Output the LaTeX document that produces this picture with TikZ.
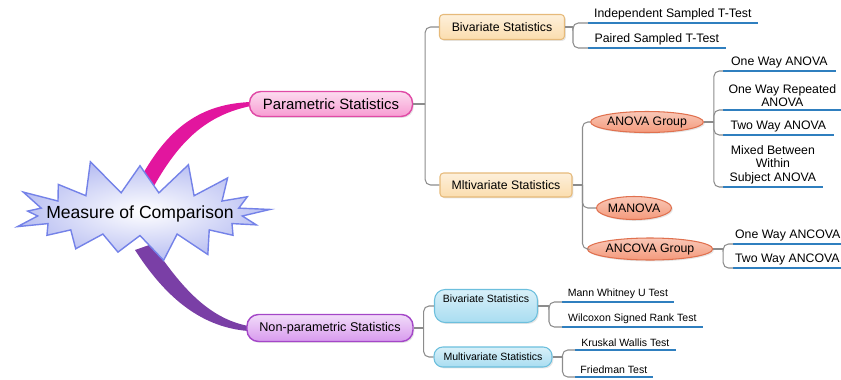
\documentclass[tikz,border=0pt]{standalone}
\usepackage{fontspec}
\setmainfont{Liberation Sans}
\usetikzlibrary{shapes.geometric, shapes.symbols, shadows, calc}
\pgfdeclarelayer{bg}
\pgfsetlayers{bg,main}

\definecolor{paraFill}{HTML}{F79BD2}
\definecolor{paraDraw}{HTML}{E04AA6}
\definecolor{ribPara}{HTML}{E2169E}
\definecolor{nonpFill}{HTML}{D89AEE}
\definecolor{nonpDraw}{HTML}{A447C8}
\definecolor{ribNonp}{HTML}{7A3FA6}
\definecolor{orangeFill}{HTML}{FBDDAE}
\definecolor{orangeDraw}{HTML}{E6BA7A}
\definecolor{salmonFill}{HTML}{F49A7C}
\definecolor{salmonDraw}{HTML}{E0714F}
\definecolor{blueFill}{HTML}{A9DDF1}
\definecolor{blueDraw}{HTML}{6CBFDD}
\definecolor{lineBlue}{HTML}{2F7FBF}
\definecolor{connGray}{HTML}{8C8C8C}
\definecolor{starFill}{HTML}{B9BFF2}
\definecolor{starDraw}{HTML}{7482E8}

\tikzstyle{conn} = [draw=connGray, line width=0.6pt, rounded corners=3pt]
\tikzstyle{uline} = [draw=lineBlue, line width=1.2pt]
\tikzstyle{leaf} = [anchor=south west, align=center, inner xsep=1pt, inner ysep=1.5pt,
  font=\fontsize{7}{7.8}\selectfont,
  append after command={(\tikzlastnode.south west) edge[uline] (\tikzlastnode.south east)}]
\tikzstyle{smallleaf} = [leaf, font=\fontsize{6}{7}\selectfont]
\tikzstyle{soft} = [drop shadow={shadow xshift=0.8pt, shadow yshift=-0.8pt, opacity=0.2}]
\tikzstyle{pill} = [soft, rounded corners=6.5pt, line width=0.8pt, inner sep=0pt]
\tikzstyle{catbox} = [soft, rounded corners=2pt, draw=orangeDraw, line width=0.6pt,
  top color=orangeFill!45!white, bottom color=orangeFill, inner sep=0pt,
  font=\fontsize{7}{8}\selectfont]
\tikzstyle{groupoval} = [soft, ellipse, draw=salmonDraw, line width=0.6pt,
  top color=salmonFill!55!white, bottom color=salmonFill, inner sep=0pt,
  font=\fontsize{7}{8}\selectfont]
\tikzstyle{bluebox} = [soft, draw=blueDraw, line width=0.6pt,
  top color=blueFill!45!white, bottom color=blueFill, inner sep=0pt,
  font=\fontsize{6}{7}\selectfont]
\tikzstyle{burst} = [starburst, starburst points=17, starburst point height=0.72cm,
  random starburst=11, draw=starDraw, line width=0.8pt,
  inner color=white, outer color=starFill,
  inner xsep=-12pt, inner ysep=4pt,
  font=\fontsize{10}{12}\selectfont]

\begin{document}
\begin{tikzpicture}[x=0.02cm, y=-0.02cm]
\useasboundingbox (0,0) rectangle (841,379);

% centre
\node[burst] (meas) at (140,214) {Measure of Comparison};

% main branches
\node[pill, draw=paraDraw, top color=paraFill!35!white, bottom color=paraFill,
  minimum width=3.26cm, minimum height=0.5cm, font=\fontsize{8.5}{10}\selectfont]
  (para) at (331,104) {Parametric Statistics};
\node[pill, draw=nonpDraw, top color=nonpFill!35!white, bottom color=nonpFill,
  minimum width=3.32cm, minimum height=0.54cm, font=\fontsize{7.2}{9}\selectfont]
  (nonp) at (330,328) {Non-parametric Statistics};

\begin{pgfonlayer}{bg}
  \fill[ribPara] ($(meas.center)+(0,-35)$) .. controls (168,128) and (200,104) .. ($(para.west)+(2,-2)$)
    -- ($(para.west)+(2,2)$) .. controls (207,115) and (180,140) .. ($(meas.center)+(14,-28)$) -- cycle;
  \fill[ribNonp] ($(meas.center)+(-5,36)$) .. controls (162,292) and (197,327) .. ($(nonp.west)+(2,3)$)
    -- ($(nonp.west)+(2,-2)$) .. controls (207,318) and (180,285) .. ($(meas.center)+(12,30)$) -- cycle;
\end{pgfonlayer}

% parametric side
\node[catbox, minimum width=2.5cm, minimum height=0.5cm] (bivP) at (502,27) {Bivariate Statistics};
\node[catbox, minimum width=2.64cm, minimum height=0.48cm] (mltP) at (506,185) {Mltivariate Statistics};

\node[leaf, minimum width=3.38cm] (indT) at (588,23) {Independent Sampled T-Test};
\node[leaf, minimum width=2.74cm] (pairT) at (588,48) {Paired Sampled T-Test};

\node[groupoval, minimum width=1.98cm, minimum height=0.42cm] (anovaG) at (647,122) {ANOVA Group};
\node[groupoval, minimum width=1.5cm, minimum height=0.46cm] (manova) at (634,208) {MANOVA};
\node[groupoval, minimum width=2.2cm, minimum height=0.44cm] (ancovaG) at (650,249) {ANCOVA Group};

\node[leaf, minimum width=2.24cm] (oneA) at (723,71) {One Way ANOVA};
\node[leaf, minimum width=2.36cm] (repA) at (723,110) {One Way Repeated\\ANOVA};
\node[leaf, minimum width=2.2cm] (twoA) at (723,135) {Two Way ANOVA};
\node[leaf, minimum width=1.98cm] (mixA) at (723,187) {Mixed Between\\Within\\Subject ANOVA};

\node[leaf, minimum width=2.16cm] (oneC) at (733,244) {One Way ANCOVA};
\node[leaf, minimum width=2.16cm] (twoC) at (733,268) {Two Way ANCOVA};

% non-parametric side
\node[bluebox, rounded corners=6pt, minimum width=2.06cm, minimum height=0.66cm,
  text height=5pt, text depth=9.5pt] (bivN) at (486,306) {Bivariate Statistics};
\node[bluebox, rounded corners=5pt, minimum width=2.36cm, minimum height=0.4cm]
  (mulN) at (493,357) {Multivariate Statistics};

\node[smallleaf, minimum width=2.22cm] (mann) at (562,302) {Mann Whitney U Test};
\node[smallleaf, minimum width=2.8cm] (wilc) at (562,327) {Wilcoxon Signed Rank Test};
\node[smallleaf, minimum width=2.0cm] (krus) at (575,350) {Kruskal Wallis Test};
\node[smallleaf, minimum width=1.54cm] (fried) at (575,377) {Friedman Test};

% connectors
\draw[conn] (para.east) -- ++(12,0) coordinate (pj);
\draw[conn] (pj) |- (bivP.west);
\draw[conn] (pj) |- (mltP.west);

\draw[conn] (bivP.east) -- ++(8,0) coordinate (bj);
\draw[conn] (bj) |- (indT.south west);
\draw[conn] (bj) |- (pairT.south west);

\draw[conn] (mltP.east) -- ++(10,0) coordinate (mj);
\draw[conn] (mj) |- (anovaG.west);
\draw[conn] (mj) |- (manova.west);
\draw[conn] (mj) |- (ancovaG.west);

\draw[conn] (anovaG.east) -- ++(10,0) coordinate (aj);
\draw[conn] (aj) |- (oneA.south west);
\draw[conn] (aj) |- (repA.south west);
\draw[conn] (aj) |- (twoA.south west);
\draw[conn] (aj) |- (mixA.south west);

\draw[conn] (ancovaG.east) -- ++(10,0) coordinate (cj);
\draw[conn] (cj) |- (oneC.south west);
\draw[conn] (cj) |- (twoC.south west);

\draw[conn] (nonp.east) -- ++(10,0) coordinate (nj);
\draw[conn] (nj) |- (bivN.west);
\draw[conn] (nj) |- (mulN.west);

\draw[conn] (bivN.east) -- ++(11,0) coordinate (bnj);
\draw[conn] (bnj) |- (mann.south west);
\draw[conn] (bnj) |- (wilc.south west);

\draw[conn] (mulN.east) -- ++(10,0) coordinate (mnj);
\draw[conn] (mnj) |- (krus.south west);
\draw[conn] (mnj) |- (fried.south west);
\end{tikzpicture}
\end{document}
